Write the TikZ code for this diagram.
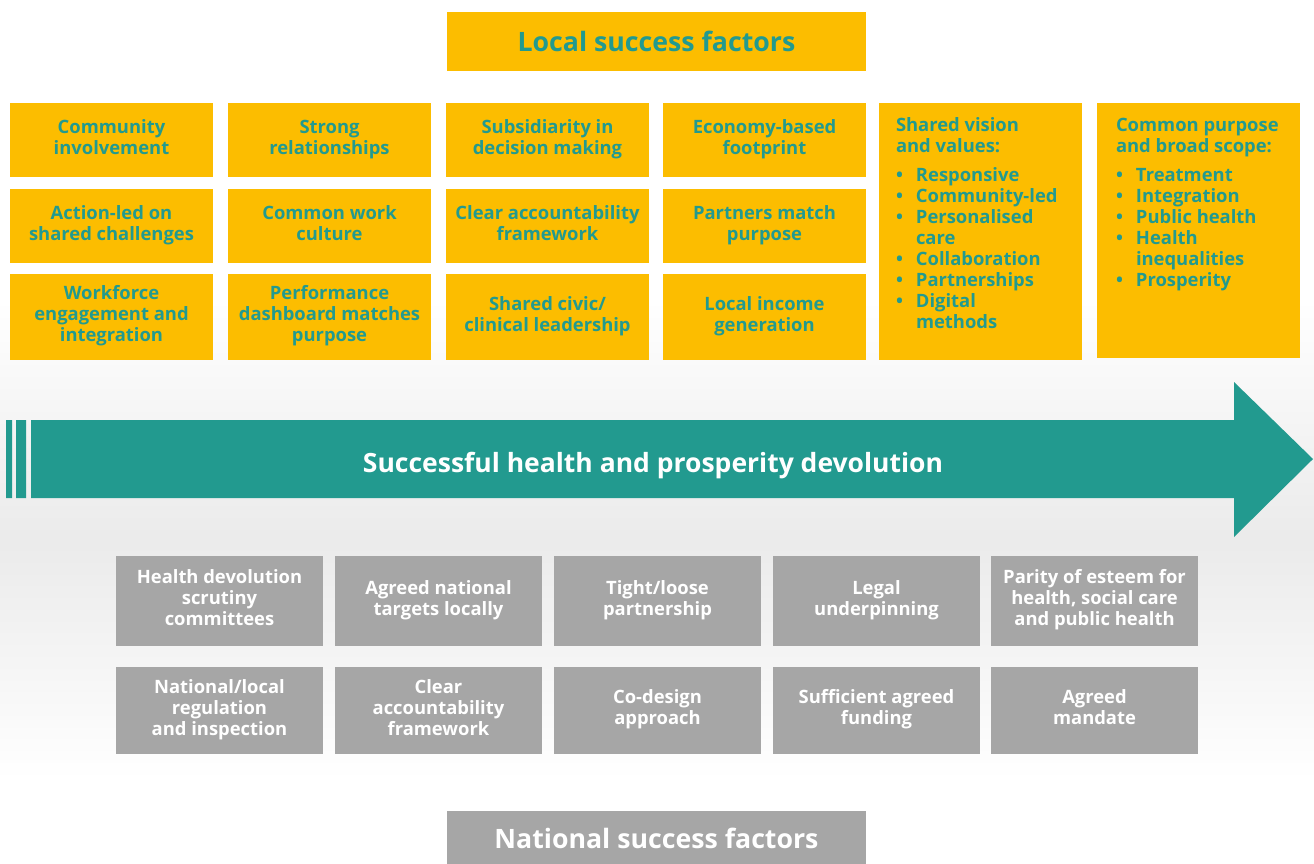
\documentclass[tikz,border=0pt]{standalone}
\usepackage{fontspec}
\setmainfont{Open Sans}
\definecolor{lsgold}{HTML}{FCBD00}
\definecolor{lsteal}{HTML}{229A8F}
\definecolor{nsgrey}{HTML}{A6A6A6}
\newcommand{\lbul}{\makebox[20pt][l]{\textbullet}}
\newcommand{\lcont}{\hspace*{20pt}}
\tikzset{
	basefont/.style={font=\fontsize{18.4}{21}\selectfont\bfseries,
		execute at begin node=\strut, execute at end node=\strut},
	localbox/.style={basefont, fill=lsgold, text=lsteal, align=center,
		inner sep=0pt, minimum width=203pt},
	natbox/.style={basefont, execute at begin node=\rule{0pt}{20pt},
		fill=nsgrey, text=white, align=center, inner sep=0pt, minimum width=207pt},
	headbox/.style={fill=#1, inner sep=0pt, minimum width=419pt,
		font=\fontsize{26.7}{32}\selectfont\bfseries},
	listtext/.style={font=\fontsize{18.4}{21}\selectfont\bfseries, text=lsteal,
		align=left, inner sep=0pt, anchor=north west}
}
\begin{document}
\begin{tikzpicture}[x=1pt, y=-1pt]
		\useasboundingbox (0, 0) rectangle (1314, 863);
		\fill[white] (0, 0) rectangle (1314, 863);
		\shade[top color=white, bottom color=white, middle color=black!8]
			(0, 300) rectangle (1314, 780);
		% local factors
		\node[headbox=lsgold, text=lsteal, minimum height=59pt] (localhead) at (656.5, 41.5)
			{Local success factors};
		\node[localbox, minimum height=74pt] (comm) at (111.5, 140) {Community\\involvement};
		\node[localbox, minimum height=74pt] (rel) at (329.5, 140) {Strong\\relationships};
		\node[localbox, minimum height=74pt] (subs) at (547.5, 140) {Subsidiarity in\\decision making};
		\node[localbox, minimum height=74pt] (econ) at (764.5, 140) {Economy-based\\footprint};
		\node[localbox, minimum height=74pt] (action) at (111.5, 226) {Action-led on\\shared challenges};
		\node[localbox, minimum height=74pt] (culture) at (329.5, 226) {Common work\\culture};
		\node[localbox, minimum height=74pt] (account) at (547.5, 226) {Clear accountability\\framework};
		\node[localbox, minimum height=74pt] (partners) at (764.5, 226) {Partners match\\purpose};
		\node[localbox, minimum height=86pt] (work) at (111.5, 317) {Workforce\\engagement and\\integration};
		\node[localbox, minimum height=86pt] (perf) at (329.5, 317) {Performance\\dashboard matches\\purpose};
		\node[localbox, minimum height=86pt] (civic) at (547.5, 317) {Shared civic/\\clinical leadership};
		\node[localbox, minimum height=86pt] (income) at (764.5, 317) {Local income\\generation};
		\node[localbox, minimum height=257pt] (vision) at (980.5, 231.5) {};
		\node[localbox, minimum height=255pt] (purpose) at (1198.5, 230.5) {};
		\node[listtext] (visiontext) at ([shift={(17pt, -15pt)}]vision.north west)
			{Shared vision\\and values:\\[8pt]
			\lbul Responsive\\ \lbul Community-led\\ \lbul Personalised\\ \lcont care\\
			\lbul Collaboration\\ \lbul Partnerships\\ \lbul Digital\\ \lcont methods};
		\node[listtext] (purposetext) at ([shift={(19pt, -15pt)}]purpose.north west)
			{Common purpose\\and broad scope:\\[8pt]
			\lbul Treatment\\ \lbul Integration\\ \lbul Public health\\ \lbul Health\\
			\lcont inequalities\\ \lbul Prosperity};
		% arrow
		\fill[lsteal] (31, 420) -- (1234, 420) -- (1234, 382) -- (1313, 459)
			-- (1234, 537) -- (1234, 498) -- (31, 498) -- cycle;
		\fill[lsteal] (6, 420) rectangle (12, 498) (16, 420) rectangle (26, 498);
		\node[text=white, inner sep=0pt, font=\fontsize{26.5}{30}\selectfont\bfseries]
			(devolution) at (653, 466) {Successful health and prosperity devolution};
		% national factors
		\node[natbox, minimum height=90pt] (scrutiny) at (219.5, 601) {Health devolution\\scrutiny\\committees};
		\node[natbox, minimum height=90pt] (targets) at (438.5, 601) {Agreed national\\targets locally};
		\node[natbox, minimum height=90pt] (tight) at (657.5, 601) {Tight/loose\\partnership};
		\node[natbox, minimum height=90pt] (legal) at (876.5, 601) {Legal\\underpinning};
		\node[natbox, minimum height=90pt] (parity) at (1094.5, 601) {Parity of esteem for\\health, social care\\and public health};
		\node[natbox, minimum height=87pt] (regul) at (219.5, 710.5) {National/local\\regulation\\and inspection};
		\node[natbox, minimum height=87pt] (clear) at (438.5, 710.5) {Clear\\accountability\\framework};
		\node[natbox, minimum height=87pt] (codesign) at (657.5, 710.5) {Co-design\\approach};
		\node[natbox, minimum height=87pt] (funding) at (876.5, 710.5) {Sufficient agreed\\funding};
		\node[natbox, minimum height=87pt] (mandate) at (1094.5, 710.5) {Agreed\\mandate};
		\node[headbox=nsgrey, text=white, minimum height=54pt] (nathead) at (656.5, 838)
			{National success factors};
\end{tikzpicture}
\end{document}
